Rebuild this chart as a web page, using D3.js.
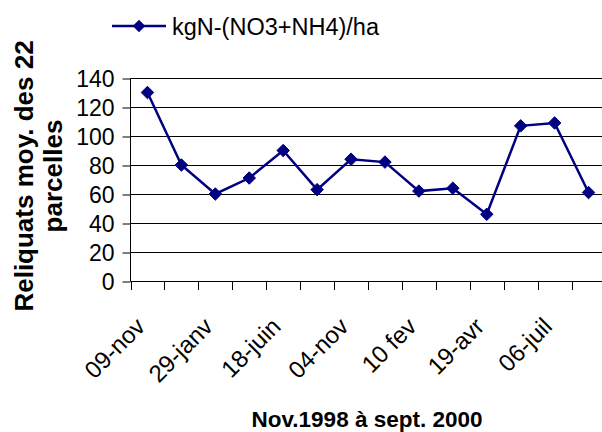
<!DOCTYPE html>
<html>
<head>
<meta charset="utf-8">
<script src="https://cdn.jsdelivr.net/npm/d3@7"></script>
<style>
  body { margin: 0; background: #fff; }
  text { font-family: Arial, "Liberation Sans", sans-serif; }
</style>
</head>
<body>
<div id="chart"></div>
<script>
(function() {

    var width = 602,
    height = 432;

    // 14 dates, only every other one is labelled on the axis
    var dates = ["09-nov", "", "29-janv", "", "18-juin", "", "04-nov", "", "10 fev", "", "19-avr", "", "06-juil", ""]
    var reliquats = [130, 80, 60, 71, 90, 63, 84, 82, 62, 64, 46, 107, 109, 61]
    var yTicks = [0, 20, 40, 60, 80, 100, 120, 140]
    var seriesName = "kgN-(NO3+NH4)/ha"

    var navy = "#000080"

    var svg = d3.select("#chart")
    .append("svg")
    .attr("width", width)
    .attr("height", height)

    var x = d3.scaleBand().domain(d3.range(dates.length)).range([130.5, 605.5])
    var y = d3.scaleLinear().domain([0, 140]).range([281, 78])

    // horizontal gridlines
    svg.selectAll(".grid")
    .data(yTicks)
    .enter().append("line")
    .attr("class", "grid")
    .attr("x1", 130.5)
    .attr("x2", width)
    .attr("y1", function(d){ return Math.round(y(d)) + 0.5 })
    .attr("y2", function(d){ return Math.round(y(d)) + 0.5 })
    .attr("stroke", "#000")
    .attr("stroke-width", 1)

    // y axis
    var yAxis = d3.axisLeft(y).tickValues(yTicks).tickSize(8).tickPadding(8)
    var gy = svg.append("g")
    .attr("transform", "translate(130.5,0.5)")
    .call(yAxis)
    gy.select(".domain").attr("d", "M0," + y(140) + "V" + y(0))
    gy.selectAll("text")
    .attr("font-size", 23)
    .attr("font-family", "Arial, 'Liberation Sans', sans-serif")
    .attr("fill", "#000")
    .attr("dy", "0.36em")

    // x axis: ticks on the category boundaries
    var bounds = d3.range(dates.length + 1).map(function(i){ return 130.5 + i * x.step() })
    svg.selectAll(".xtick")
    .data(bounds)
    .enter().append("line")
    .attr("class", "xtick")
    .attr("x1", function(d){ return Math.round(d) + 0.5 })
    .attr("x2", function(d){ return Math.round(d) + 0.5 })
    .attr("y1", y(0))
    .attr("y2", y(0) + 9)
    .attr("stroke", "#000")

    svg.selectAll(".xlabel")
    .data(dates)
    .enter().append("text")
    .attr("class", "xlabel")
    .attr("transform", function(d, i){
        return "translate(" + (x(i) + x.bandwidth() / 2 - 1) + "," + (y(0) + 47) + ") rotate(-45)"
    })
    .attr("text-anchor", "end")
    .attr("font-size", 24)
    .text(function(d){ return d })

    // the line
    var line = d3.line()
    .x(function(d, i){ return x(i) + x.bandwidth() / 2 })
    .y(function(d){ return y(d) })

    svg.append("path")
    .datum(reliquats)
    .attr("d", line)
    .attr("fill", "none")
    .attr("stroke", navy)
    .attr("stroke-width", 2.5)

    var diamond = d3.symbol().type(d3.symbolDiamond2).size(100)

    svg.selectAll(".marker")
    .data(reliquats)
    .enter().append("path")
    .attr("class", "marker")
    .attr("d", diamond)
    .attr("transform", function(d, i){
        return "translate(" + (x(i) + x.bandwidth() / 2) + "," + y(d) + ")"
    })
    .attr("fill", navy)
    .attr("stroke", navy)
    .attr("stroke-width", 1)

    // legend
    var legend = svg.append("g").attr("transform", "translate(112,26)")
    legend.append("line")
    .attr("x1", 0).attr("x2", 54)
    .attr("stroke", navy).attr("stroke-width", 2.5)
    legend.append("path")
    .attr("d", diamond)
    .attr("transform", "translate(27,0)")
    .attr("fill", navy)
    legend.append("text")
    .attr("x", 60)
    .attr("y", 9)
    .attr("font-size", 23.5)
    .text(seriesName)

    // axis titles
    svg.append("text")
    .attr("x", 367)
    .attr("y", 427)
    .attr("text-anchor", "middle")
    .attr("font-size", 22.5)
    .attr("font-weight", "bold")
    .text("Nov.1998 à sept. 2000")

    var ytitle = svg.append("text")
    .attr("transform", "translate(0,176) rotate(-90)")
    .attr("text-anchor", "middle")
    .attr("font-size", 26)
    .attr("font-weight", "bold")
    ytitle.append("tspan").attr("x", 0).attr("y", 33).text("Reliquats moy. des 22")
    ytitle.append("tspan").attr("x", 0).attr("y", 62).text("parcelles")

})();
</script>
</body>
</html>
